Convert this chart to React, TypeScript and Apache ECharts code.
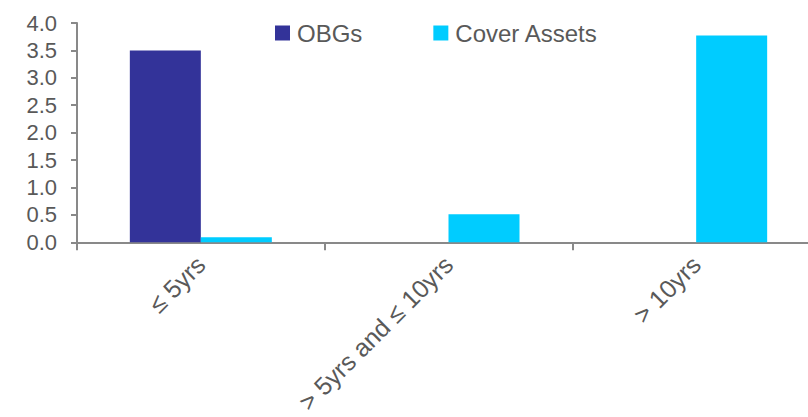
import React, { useEffect, useRef } from "react";
import * as echarts from "echarts";

const categories = ["≤ 5yrs", "> 5yrs and ≤ 10yrs", "> 10yrs"];
const obgs = [3.5, 0, 0];
const coverAssets = [0.09, 0.51, 3.77];
const seriesNames = ["OBGs", "Cover Assets"];

export default function App() {
  const ref = useRef<HTMLDivElement>(null);
  useEffect(() => {
    if (!ref.current) return;
    const chart = echarts.init(ref.current, null, { renderer: "svg" });
    const font = "'Liberation Sans', Arial, sans-serif";
    chart.setOption({
      animation: false,
      textStyle: { fontFamily: font },
      legend: {
        left: 270,
        top: 16,
        itemWidth: 15,
        itemHeight: 15,
        itemGap: 71,
        icon: "rect",
        textStyle: { fontSize: 24, color: "#595959", fontFamily: font, padding: [0, 0, 0, 2] },
        data: seriesNames,
      },
      grid: { left: 77, top: 23, right: 0, bottom: 174, containLabel: false },
      xAxis: {
        type: "category",
        data: categories,
        axisLine: { lineStyle: { color: "#898989", width: 2 } },
        axisTick: { show: true, length: 8, lineStyle: { color: "#898989", width: 2 } },
        axisLabel: { rotate: 45, fontSize: 25, color: "#595959", margin: 18, fontFamily: font },
      },
      yAxis: {
        type: "value",
        min: 0,
        max: 4,
        interval: 0.5,
        splitLine: { show: false },
        axisLine: { show: true, lineStyle: { color: "#898989", width: 2 } },
        axisTick: { show: true, length: 6, lineStyle: { color: "#898989", width: 2 } },
        axisLabel: {
          fontSize: 22,
          color: "#595959",
          margin: 20,
          fontFamily: font,
          formatter: (v: number) => v.toFixed(1),
        },
      },
      series: [
        {
          name: seriesNames[0],
          type: "bar",
          data: obgs,
          barWidth: 71,
          barGap: "0%",
          itemStyle: { color: "#333399" },
        },
        {
          name: seriesNames[1],
          type: "bar",
          data: coverAssets,
          barWidth: 71,
          barGap: "0%",
          itemStyle: { color: "#00CCFF" },
        },
      ],
    });
    return () => chart.dispose();
  }, []);
  return (
    <div
      style={{
        position: "absolute",
        left: 0,
        top: 0,
        width: 808,
        height: 417,
        overflow: "hidden",
        background: "#fff",
      }}
    >
      <div ref={ref} style={{ width: 820, height: 417 }} />
    </div>
  );
}
